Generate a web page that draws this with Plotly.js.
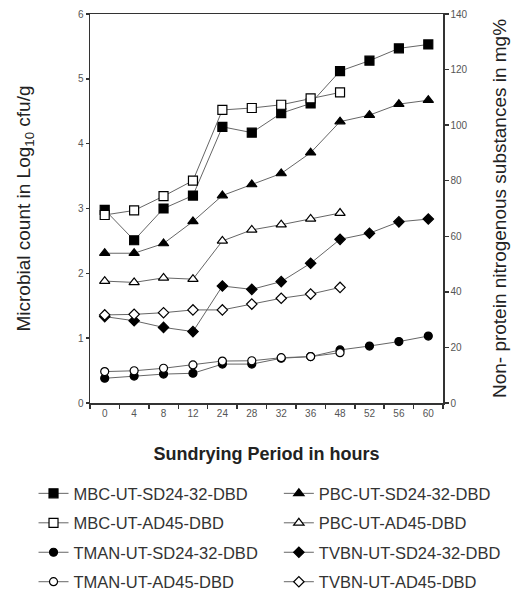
<!DOCTYPE html>
<html>
<head>
<meta charset="utf-8">
<script src="https://cdn.plot.ly/plotly-3.0.1.min.js"></script>
<style>html,body{margin:0;padding:0;background:#fff;}#chart{width:516px;height:591px;}</style>
</head>
<body>
<div id="chart"></div>
<script>
// Sundrying period (hours) – categorical axis
var hours = ['0','4','8','12','24','28','32','36','48','52','56','60'];
var hoursAD = ['0','4','8','12','24','28','32','36','48'];

// Microbial counts (Log10 cfu/g) – left axis
var mbcSD = [2.98, 2.51, 3.0, 3.2, 4.26, 4.17, 4.47, 4.62, 5.12, 5.28, 5.47, 5.53];
var mbcAD = [2.9, 2.97, 3.19, 3.43, 4.52, 4.55, 4.6, 4.7, 4.79];
var pbcSD = [2.31, 2.31, 2.46, 2.8, 3.2, 3.37, 3.54, 3.86, 4.34, 4.44, 4.61, 4.67];
var pbcAD = [1.88, 1.86, 1.93, 1.91, 2.5, 2.67, 2.75, 2.84, 2.93];

// Non-protein nitrogenous substances (mg%) – right axis
var tmanSD = [8.9, 9.7, 10.4, 10.7, 14.0, 14.0, 16.1, 16.7, 19.1, 20.5, 22.1, 24.1];
var tmanAD = [11.3, 11.6, 12.5, 13.7, 15.1, 15.2, 16.3, 16.7, 18.1];
var tvbnSD = [31.1, 29.6, 27.2, 25.7, 42.1, 40.9, 43.7, 50.3, 58.9, 61.1, 65.2, 66.2];
var tvbnAD = [31.7, 31.9, 32.5, 33.5, 33.5, 35.6, 37.7, 39.2, 41.6];

var lineStyle = {color: '#666', width: 1};
function tr(name, x, y, yaxis, symbol, filled, size, legend, group) {
  return {
    type: 'scatter', mode: 'lines+markers', name: name, x: x, y: y, yaxis: yaxis,
    line: lineStyle,
    marker: {symbol: symbol, size: size, color: filled ? '#000' : '#fff',
             line: {color: '#000', width: 1.2}},
    legend: legend, legendgroup: group
  };
}

var data = [
  tr('MBC-UT-SD24-32-DBD', hours, mbcSD, 'y', 'square', true, 9, 'legend', 'a1'),
  tr('MBC-UT-AD45-DBD', hoursAD, mbcAD, 'y', 'square', false, 9, 'legend', 'a2'),
  tr('TMAN-UT-SD24-32-DBD', hours, tmanSD, 'y2', 'circle', true, 8, 'legend', 'a3'),
  tr('TMAN-UT-AD45-DBD', hoursAD, tmanAD, 'y2', 'circle', false, 8, 'legend', 'a4'),
  tr('PBC-UT-SD24-32-DBD', hours, pbcSD, 'y', 'triangle-up', true, 9, 'legend2', 'b1'),
  tr('PBC-UT-AD45-DBD', hoursAD, pbcAD, 'y', 'triangle-up', false, 9, 'legend2', 'b2'),
  tr('TVBN-UT-SD24-32-DBD', hours, tvbnSD, 'y2', 'diamond', true, 8, 'legend2', 'b3'),
  tr('TVBN-UT-AD45-DBD', hoursAD, tvbnAD, 'y2', 'diamond', false, 8, 'legend2', 'b4')
];

var fontFam = 'Liberation Sans, Arial, sans-serif';
var legendBase = {
  orientation: 'v', traceorder: 'grouped', tracegroupgap: 5,
  font: {family: fontFam, size: 16.5, color: '#333'},
  bgcolor: 'rgba(0,0,0,0)', itemwidth: 30,
  yanchor: 'top', xanchor: 'left', y: -0.188
};

var layout = {
  width: 516, height: 591,
  margin: {l: 90, r: 73, t: 14, b: 188, autoexpand: false},
  paper_bgcolor: '#fff', plot_bgcolor: '#fff',
  font: {family: fontFam, color: '#222'},
  showlegend: true,
  xaxis: {
    type: 'category', categoryorder: 'array', categoryarray: hours,
    range: [-0.5, 11.5], tickson: 'boundaries',
    ticks: 'outside', ticklen: 4, tickwidth: 1.5, tickcolor: '#333',
    showline: true, linecolor: '#333', linewidth: 1.5, mirror: true,
    showgrid: false, zeroline: false,
    tickfont: {size: 10, color: '#555'},
    title: {text: '<b>Sundrying Period in hours</b>', font: {size: 18, color: '#222'}, standoff: 30},
    automargin: false
  },
  yaxis: {
    range: [0, 6], dtick: 1, ticks: 'outside', ticklen: 3, tickwidth: 1.5, tickcolor: '#333',
    showline: true, linecolor: '#333', linewidth: 1.5,
    showgrid: false, zeroline: false,
    tickfont: {size: 10, color: '#555'},
    title: {text: 'Microbial count in Log<sub>10</sub> cfu/g', font: {size: 19, color: '#222'}, standoff: 42},
    automargin: false
  },
  yaxis2: {
    overlaying: 'y', side: 'right',
    range: [0, 140], dtick: 20, ticks: 'outside', ticklen: 4, tickwidth: 1.5, tickcolor: '#333',
    showline: true, linecolor: '#333', linewidth: 1.5,
    showgrid: false, zeroline: false,
    tickfont: {size: 10, color: '#555'},
    title: {text: 'Non- protein nitrogenous substances in mg%', font: {size: 19, color: '#222'}, standoff: 26},
    automargin: false
  },
  legend: Object.assign({}, legendBase, {x: -0.16}),
  legend2: Object.assign({}, legendBase, {x: 0.535})
};

Plotly.newPlot('chart', data, layout, {displayModeBar: false, staticPlot: true});
</script>
</body>
</html>
